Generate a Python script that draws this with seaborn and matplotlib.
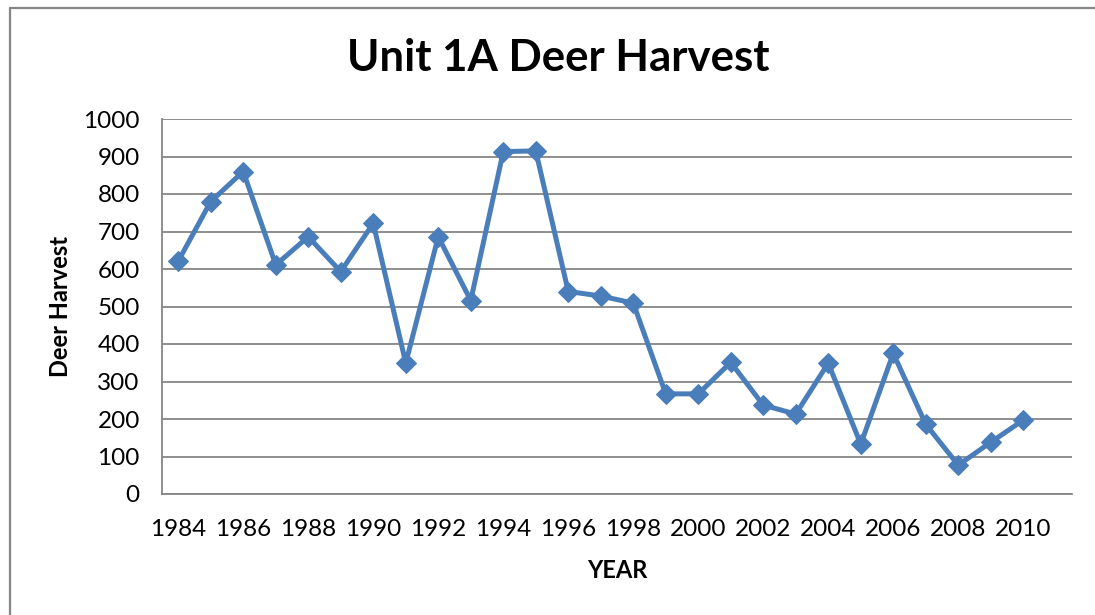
import matplotlib
matplotlib.use("Agg")
import matplotlib.pyplot as plt
import seaborn as sns
import pandas as pd
from matplotlib.lines import Line2D

years = list(range(1984, 2011))
harvest = [621, 780, 860, 611, 686, 593, 722, 349, 686, 516, 913, 915, 540, 528,
           509, 267, 267, 351, 237, 213, 349, 133, 375, 186, 77, 138, 197]
y_ticks = [0, 100, 200, 300, 400, 500, 600, 700, 800, 900, 1000]

sns.set_theme(style="white")
plt.rcParams['font.family'] = ['Lato', 'DejaVu Sans']

W, H = 1095, 615
fig = plt.figure(figsize=(W / 100, H / 100), dpi=100)
ax = fig.add_axes([162 / W, 1 - 494 / H, (1072 - 162) / W, (494 - 119) / H])

df = pd.DataFrame({"pos": list(range(len(years))), "harvest": harvest})
blue = "#4A7EBB"
sns.lineplot(data=df, x="pos", y="harvest", ax=ax, color=blue, linewidth=3.6,
             marker="D", markersize=10.5, markeredgecolor=blue, markerfacecolor=blue)

ax.set_xlim(-0.5, len(years) + 0.5)
ax.set_ylim(0, 1000)
ax.set_yticks(y_ticks)
ax.set_yticklabels([str(v) for v in y_ticks], fontsize=17.5, color="black")
ax.set_xticks(list(range(0, len(years), 2)))
ax.set_xticklabels([str(y) for y in years[::2]], fontsize=17.5, color="black")
ax.set_xticks([i - 0.5 for i in range(len(years) + 2)], minor=True)
ax.tick_params(axis="x", which="major", length=0, pad=18)
ax.tick_params(axis="x", which="minor", length=6, width=1.3, color="#868686", direction="out")
ax.tick_params(axis="y", which="major", length=6, width=1.3, color="#868686", direction="out", pad=10)
ax.grid(axis="y", color="#868686", linewidth=1.3)
ax.set_axisbelow(True)
for s in ["top", "right"]:
    ax.spines[s].set_visible(False)
for s in ["left", "bottom"]:
    ax.spines[s].set_color("#868686")
    ax.spines[s].set_linewidth(1.3)

ax.set_xlabel("YEAR", fontsize=17, fontweight="bold", color="black", va="center")
ax.set_ylabel("Deer Harvest", fontsize=17, fontweight="bold", color="black", va="center")
ax.xaxis.set_label_coords(0.5, (494 - 570) / 375)
ax.yaxis.set_label_coords((60 - 162) / 910, 0.5)

fig.text(558 / W, 1 - 58 / H, "Unit 1A Deer Harvest", ha="center", va="center",
         fontsize=31.5, fontweight="bold", color="black")

fig.add_artist(Line2D([9.5 / W, 9.5 / W], [0, 1 - 7.5 / H], transform=fig.transFigure,
                      color="#868686", linewidth=1.6))
fig.add_artist(Line2D([9.5 / W, 1], [1 - 7.5 / H, 1 - 7.5 / H], transform=fig.transFigure,
                      color="#868686", linewidth=1.6))

fig.savefig("out.png", dpi=100)
